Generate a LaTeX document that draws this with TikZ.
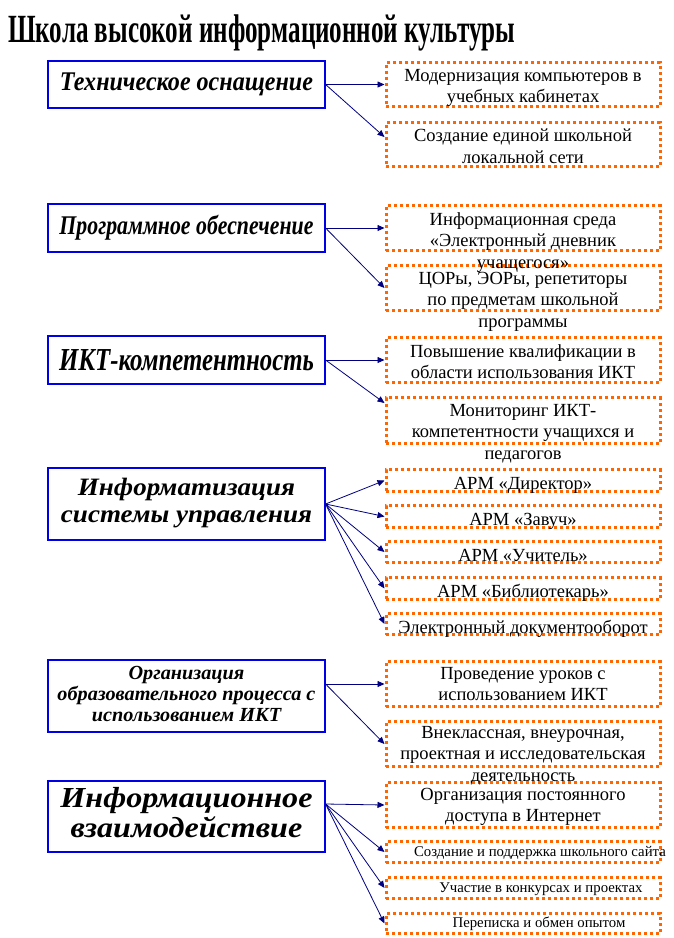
\documentclass[tikz,border=0pt]{standalone}
\usepackage{fontspec}
\setmainfont{Liberation Serif}
\usetikzlibrary{arrows.meta}

\definecolor{boxblue}{RGB}{0,0,230}
\definecolor{dotorange}{RGB}{255,102,0}
\definecolor{linknavy}{RGB}{0,0,128}

\newcommand{\squeeze}[2]{\resizebox{#1}{\height}{#2}}

\tikzset{
  lbox/.style={draw=boxblue, line width=1.2pt, minimum width=277pt, inner sep=0pt,
    font=\bfseries\itshape},
  rbox/.style={draw=dotorange, line width=3pt, dash pattern=on 3pt off 3pt,
    minimum width=274pt, inner sep=0pt},
  rtext/.style={anchor=north, align=center, inner sep=0pt,
    font=\fontsize{18.5}{21.5}\selectfont, execute at begin node=\strut},
  stext/.style={anchor=base, inner sep=0pt, font=\fontsize{14.8}{16}\selectfont},
  link/.style={-{Triangle[length=7pt,width=6pt]}, draw=linknavy, line width=0.8pt}
}

\begin{document}
\begin{tikzpicture}[x=1pt,y=-1pt]
    \useasboundingbox (0,0) rectangle (673,938);

    % Title
    \node[anchor=base west, inner sep=0pt, font=\fontsize{40}{44}\selectfont\bfseries]
      (title) at (8,42) {\squeeze{507pt}{Школа высокой информационной культуры}};

    % Left boxes
    \node[lbox, minimum height=47pt, font=\fontsize{27}{30}\selectfont\bfseries\itshape]
      (tech) at (186.5,84.5) {\squeeze{253pt}{Техническое оснащение}};
    \node[lbox, minimum height=48pt, font=\fontsize{27}{30}\selectfont\bfseries\itshape]
      (soft) at (186.5,228) {\squeeze{254pt}{Программное обеспечение}};
    \node[lbox, minimum height=48pt, font=\fontsize{32}{34}\selectfont\bfseries\itshape]
      (ikt) at (186.5,360) {\squeeze{255pt}{ИКТ-компетентность}};
    \node[lbox, minimum height=72pt, font=\fontsize{25}{27}\selectfont\bfseries\itshape]
      (manage) at (186.5,504) {\squeeze{251pt}{\begin{tabular}{@{}c@{}}Информатизация\\системы управления\end{tabular}}};
    \node[lbox, minimum height=72pt, font=\fontsize{20}{21}\selectfont\bfseries\itshape]
      (teach) at (186.5,696) {\squeeze{258pt}{\begin{tabular}{@{}c@{}}Организация\\образовательного процесса с\\использованием ИКТ\end{tabular}}};
    \node[lbox, minimum height=71pt, font=\fontsize{29}{28}\selectfont\bfseries\itshape]
      (net) at (186.5,816.5) {\squeeze{252pt}{\begin{tabular}{@{}c@{}}Информационное\\взаимодействие\end{tabular}}};

    % Right boxes
    \node[rbox, minimum height=44pt] (r11) at (523,84.5) {};
    \node[rbox, minimum height=44pt] (r12) at (523,144.5) {};
    \node[rbox, minimum height=45pt] (r21) at (523,228) {};
    \node[rbox, minimum height=45pt] (r22) at (523,288) {};
    \node[rbox, minimum height=45pt] (r31) at (523,360) {};
    \node[rbox, minimum height=46pt] (r32) at (523,420.5) {};
    \node[rbox, minimum height=22pt] (r41) at (523,480.5) {};
    \node[rbox, minimum height=22pt] (r42) at (523,516.5) {};
    \node[rbox, minimum height=21pt] (r43) at (523,552) {};
    \node[rbox, minimum height=22pt] (r44) at (523,588.5) {};
    \node[rbox, minimum height=21pt] (r45) at (523,624) {};
    \node[rbox, minimum height=45pt] (r51) at (523,684) {};
    \node[rbox, minimum height=45pt] (r52) at (523,744) {};
    \node[rbox, minimum height=45pt] (r61) at (523,805) {};
    \node[rbox, minimum height=21pt] (r62) at (523,852) {};
    \node[rbox, minimum height=21pt] (r63) at (523,888) {};
    \node[rbox, minimum height=20pt] (r64) at (523,923.5) {};

    % Texts in the right boxes
    \node[rtext] (r11t) at ([yshift=-8pt]r11.north) {Модернизация компьютеров в\\учебных кабинетах};
    \node[rtext] (r12t) at ([yshift=-8pt]r12.north) {Создание единой школьной\\локальной сети};
    \node[rtext] (r21t) at ([yshift=-8pt]r21.north) {Информационная среда\\«Электронный дневник\\учащегося»};
    \node[rtext] (r22t) at ([yshift=-8pt]r22.north) {ЦОРы, ЭОРы, репетиторы\\по предметам школьной\\программы};
    \node[rtext] (r31t) at ([yshift=-8pt]r31.north) {Повышение квалификации в\\области использования ИКТ};
    \node[rtext] (r32t) at ([yshift=-8pt]r32.north) {Мониторинг ИКТ-\\компетентности учащихся и\\педагогов};
    \node[rtext] (r41t) at ([yshift=-6.5pt]r41.north) {АРМ «Директор»};
    \node[rtext] (r42t) at ([yshift=-6.5pt]r42.north) {АРМ «Завуч»};
    \node[rtext] (r43t) at ([yshift=-6.5pt]r43.north) {АРМ «Учитель»};
    \node[rtext] (r44t) at ([yshift=-6.5pt]r44.north) {АРМ «Библиотекарь»};
    \node[rtext] (r45t) at ([yshift=-6.5pt]r45.north) {Электронный документооборот};
    \node[rtext] (r51t) at ([yshift=-7pt]r51.north) {Проведение уроков с\\использованием ИКТ};
    \node[rtext] (r52t) at ([yshift=-6pt]r52.north) {Внеклассная, внеурочная,\\проектная и исследовательская\\деятельность};
    \node[rtext] (r61t) at ([yshift=-7pt]r61.north) {Организация постоянного\\доступа в Интернет};
    \node[stext] (r62t) at ([xshift=17pt,yshift=-16pt]r62.north) {Создание и поддержка школьного сайта};
    \node[stext] (r63t) at ([xshift=18pt,yshift=-16pt]r63.north) {Участие в конкурсах и проектах};
    \node[stext] (r64t) at ([xshift=16pt,yshift=-15pt]r64.north) {Переписка и обмен опытом};

    % Arrows
    \draw[link] (tech.east) -- (r11.west);
    \draw[link] (tech.east) -- ([yshift=7.5pt]r12.west);
    \draw[link] (soft.east) -- (r21.west);
    \draw[link] (soft.east) -- (r22.west);
    \draw[link] (ikt.east) -- (r31.west);
    \draw[link] (ikt.east) -- ([yshift=17.5pt]r32.west);
    \foreach \k in {1,...,5}
      \draw[link] (manage.east) -- (r4\k.west);
    \draw[link] ([yshift=12pt]teach.east) -- (r51.west);
    \draw[link] ([yshift=12pt]teach.east) -- (r52.west);
    \foreach \k in {1,...,4}
      \draw[link] ([yshift=12.5pt]net.east) -- (r6\k.west);
\end{tikzpicture}
\end{document}
